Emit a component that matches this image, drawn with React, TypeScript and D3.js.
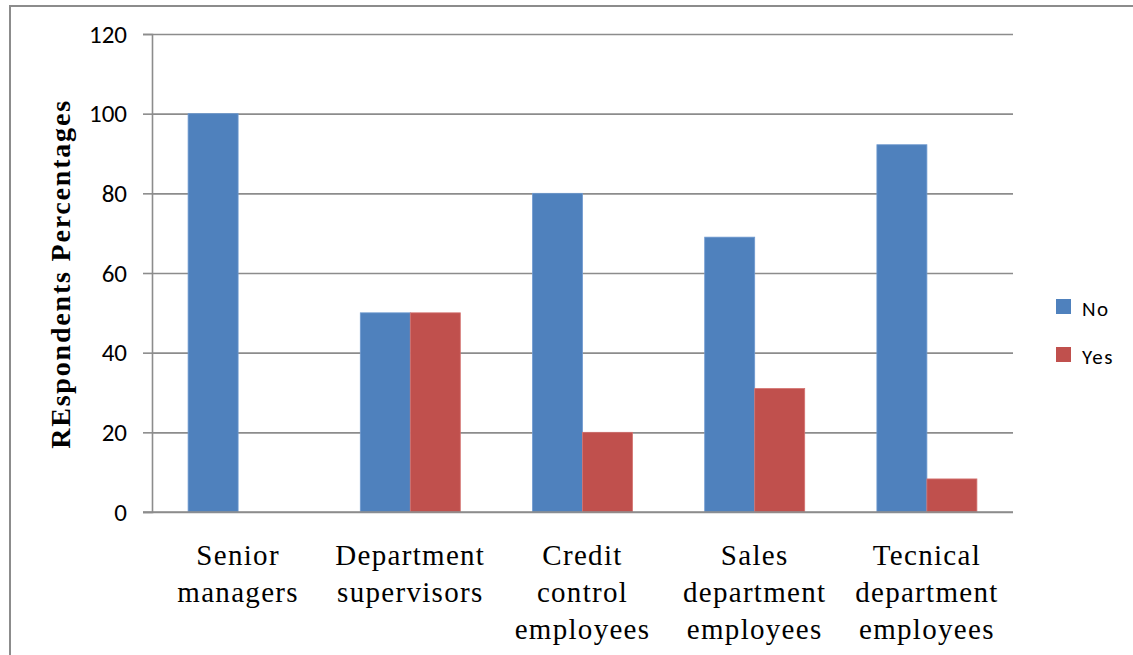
import { useEffect, useRef } from "react";
import * as d3 from "d3";

// ── Data ──────────────────────────────────────────────────────────────────────
const categories = [
  ["Senior", "managers"],
  ["Department", "supervisors"],
  ["Credit", "control", "employees"],
  ["Sales", "department", "employees"],
  ["Tecnical", "department", "employees"],
];
const seriesNames = ["No", "Yes"];
const noValues = [100, 50, 80, 69, 92.2];
const yesValues = [0, 50, 20, 31, 8.3];
const yTicks = [0, 20, 40, 60, 80, 100, 120];

const COLORS: Record<string, string> = { No: "#4F81BD", Yes: "#C0504D" };
const STROKES: Record<string, string> = { No: "#6F9AD0", Yes: "#D47370" };

const W = 1133;
const H = 655;
const M = { top: 34, right: 120, bottom: 143, left: 152 };
const SANS = "Carlito, 'Liberation Sans', Arial, sans-serif";
const SERIF = "'Liberation Serif', 'Times New Roman', serif";

export default function App() {
  const ref = useRef<SVGSVGElement>(null);

  useEffect(() => {
    if (!ref.current) return;
    const svg = d3.select(ref.current);
    svg.selectAll("*").remove();

    const iw = W - M.left - M.right;
    const ih = H - M.top - M.bottom;

    // outer frame
    svg.append("rect")
      .attr("x", 10).attr("y", 6)
      .attr("width", W + 20).attr("height", H + 20)
      .attr("fill", "none").attr("stroke", "#8c8c8c").attr("stroke-width", 2);

    const g = svg.append("g").attr("transform", `translate(${M.left},${M.top})`);

    const x = d3.scaleBand<number>()
      .domain(categories.map((_, i) => i))
      .range([0, iw]);
    const xs = d3.scaleBand<string>()
      .domain(seriesNames)
      .range([x.bandwidth() / 2 - 50, x.bandwidth() / 2 + 50]);
    const y = d3.scaleLinear().domain([0, 120]).range([ih, 0]);

    // grid
    g.append("g")
      .call(d3.axisLeft(y).tickValues(yTicks).tickSize(-iw).tickFormat(() => ""))
      .call((a) => a.select(".domain").remove())
      .call((a) => a.selectAll(".tick line").attr("stroke", "#8c8c8c").attr("stroke-width", 1.6));

    // y axis
    g.append("g")
      .call(d3.axisLeft(y).tickValues(yTicks).tickSize(9).tickPadding(16))
      .call((a) => a.select(".domain").attr("stroke", "#8c8c8c").attr("stroke-width", 1.6))
      .call((a) => a.selectAll(".tick line").attr("stroke", "#8c8c8c").attr("stroke-width", 1.6))
      .call((a) => a.selectAll("text")
        .attr("fill", "#000")
        .attr("font-size", "25px")
        .attr("font-family", SANS));

    // bars
    const rows = categories.map((_, i) => ({ i, No: noValues[i], Yes: yesValues[i] }));
    seriesNames.forEach((s) => {
      g.append("g")
        .selectAll("rect")
        .data(rows.filter((r) => (r as any)[s] > 0))
        .join("rect")
        .attr("x", (r) => (x(r.i) ?? 0) + (xs(s) ?? 0))
        .attr("y", (r) => y((r as any)[s]))
        .attr("width", xs.bandwidth())
        .attr("height", (r) => ih - y((r as any)[s]))
        .attr("fill", COLORS[s])
        .attr("stroke", STROKES[s])
        .attr("stroke-width", 0.8);
    });

    // baseline on top
    g.append("line")
      .attr("x1", -9).attr("x2", iw)
      .attr("y1", ih).attr("y2", ih)
      .attr("stroke", "#8c8c8c").attr("stroke-width", 1.6);

    // category labels
    const lab = g.append("g")
      .attr("font-family", SERIF)
      .attr("font-size", "29px")
      .attr("letter-spacing", "1.3px")
      .attr("text-anchor", "middle")
      .attr("fill", "#000");
    categories.forEach((lines, i) => {
      const cx = (x(i) ?? 0) + x.bandwidth() / 2;
      const t = lab.append("text").attr("x", cx).attr("y", ih + 53);
      lines.forEach((ln, k) => {
        t.append("tspan")
          .attr("x", cx)
          .attr("dy", k === 0 ? 0 : 37)
          .text(ln);
      });
    });

    // y title
    svg.append("text")
      .attr("transform", `translate(70,274) rotate(-90)`)
      .attr("text-anchor", "middle")
      .attr("font-family", SERIF)
      .attr("font-weight", "bold")
      .attr("font-size", "28px")
      .attr("letter-spacing", "1.8px")
      .attr("fill", "#000")
      .text("REspondents  Percentages");

    // legend
    const lg = svg.append("g")
      .attr("font-family", SANS)
      .attr("font-size", "21px")
      .attr("letter-spacing", "1.5px");
    seriesNames.forEach((s, k) => {
      const yy = 299 + k * 48;
      lg.append("rect")
        .attr("x", 1056).attr("y", yy)
        .attr("width", 15).attr("height", 15)
        .attr("fill", COLORS[s]);
      lg.append("text")
        .attr("x", 1082).attr("y", yy + 17)
        .attr("fill", "#000")
        .text(s);
    });
  }, []);

  return (
    <div style={{ position: "absolute", left: 0, top: 0, width: W, height: H, background: "#fff" }}>
      <svg ref={ref} width={W} height={H} />
    </div>
  );
}
